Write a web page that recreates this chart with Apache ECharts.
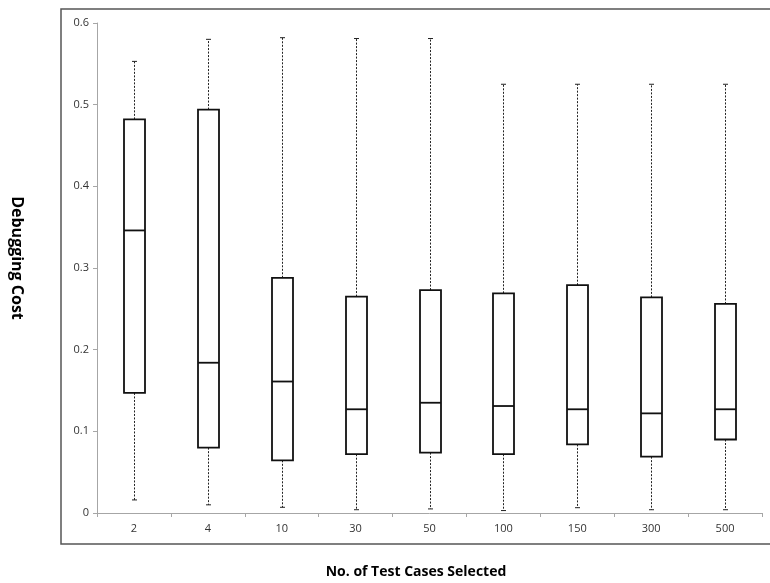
<!DOCTYPE html>
<html>
<head>
<meta charset="utf-8">
<script src="https://cdn.jsdelivr.net/npm/echarts@6/dist/echarts.min.js"></script>
<style>
html,body{margin:0;padding:0;background:#fff;}
#chart{width:770px;height:583px;}
</style>
</head>
<body>
<div id="chart"></div>
<script>
var categories = ['2','4','10','30','50','100','150','300','500'];
var whiskerLow  = [0.016, 0.010, 0.007, 0.004, 0.005, 0.003, 0.0065, 0.004, 0.004];
var q1Values    = [0.147, 0.080, 0.0645, 0.072, 0.074, 0.072, 0.084, 0.069, 0.090];
var medians     = [0.346, 0.184, 0.161, 0.127, 0.135, 0.131, 0.127, 0.122, 0.127];
var q3Values    = [0.482, 0.494, 0.288, 0.265, 0.273, 0.269, 0.279, 0.264, 0.256];
var whiskerHigh = [0.553, 0.580, 0.582, 0.581, 0.581, 0.525, 0.525, 0.525, 0.525];
var yTicks = [0, 0.1, 0.2, 0.3, 0.4, 0.5, 0.6];

var data = categories.map(function(c, i){
  return [i, whiskerLow[i], q1Values[i], medians[i], q3Values[i], whiskerHigh[i]];
});

var chart = echarts.init(document.getElementById('chart'));
var FONT = '"Open Sans", "Liberation Sans", sans-serif';

function renderItem(params, api) {
  var x = api.value(0);
  var pMin = api.coord([x, api.value(1)]);
  var pQ1 = api.coord([x, api.value(2)]);
  var pMed = api.coord([x, api.value(3)]);
  var pQ3 = api.coord([x, api.value(4)]);
  var pMax = api.coord([x, api.value(5)]);
  var bw = 21, cap = 5;
  var cx = Math.round(pMed[0]) + 0.5;
  var dash = {stroke:'#222', lineWidth:1, lineDash:[2,1.5]};
  var solid = {stroke:'#222', lineWidth:1};
  return {
    type: 'group',
    children: [
      {type:'line', shape:{x1:cx, y1:pQ3[1], x2:cx, y2:pMax[1]}, style:dash},
      {type:'line', shape:{x1:cx, y1:pQ1[1], x2:cx, y2:pMin[1]}, style:dash},
      {type:'line', shape:{x1:cx-cap/2, y1:pMax[1], x2:cx+cap/2, y2:pMax[1]}, style:solid},
      {type:'line', shape:{x1:cx-cap/2, y1:pMin[1], x2:cx+cap/2, y2:pMin[1]}, style:solid},
      {type:'rect', shape:{x:cx-bw/2, y:pQ3[1], width:bw, height:pQ1[1]-pQ3[1]},
        style:{fill:'#fff', stroke:'#111', lineWidth:1.8}},
      {type:'line', shape:{x1:cx-bw/2, y1:pMed[1], x2:cx+bw/2, y2:pMed[1]},
        style:{stroke:'#111', lineWidth:1.8}}
    ]
  };
}

chart.setOption({
  animation: false,
  backgroundColor: '#fff',
  grid: {left: 97, right: 8, top: 23, bottom: 70},
  xAxis: {
    type: 'category',
    data: categories,
    boundaryGap: true,
    axisLine: {lineStyle: {color: '#a6a6a6', width: 1}},
    axisTick: {show: true, alignWithLabel: false, length: 4, lineStyle: {color: '#a6a6a6'}},
    axisLabel: {color: '#333', fontSize: 11, fontFamily: FONT, margin: 10},
    splitLine: {show: false}
  },
  yAxis: {
    type: 'value',
    min: 0, max: 0.6, interval: 0.1,
    axisLine: {show: true, lineStyle: {color: '#a6a6a6', width: 1}},
    axisTick: {show: true, length: 4, lineStyle: {color: '#a6a6a6'}},
    axisLabel: {color: '#333', fontSize: 11, fontFamily: FONT, margin: 8,
      formatter: function(v){ var r = Math.round(v*10)/10; return yTicks.indexOf(r) >= 0 ? String(r) : ''; }},
    splitLine: {show: false}
  },
  series: [{
    type: 'custom',
    renderItem: renderItem,
    encode: {x: 0, y: [1,2,3,4,5]},
    data: data
  }],
  graphic: [
    {type:'rect', shape:{x:61, y:9, width:730, height:535}, style:{fill:'none', stroke:'#555', lineWidth:1.5}, z:-1},
    {type:'text', x: 17, y: 258, rotation: -Math.PI/2,
      style:{text:'Debugging Cost', font:'bold 16px ' + FONT, fill:'#000', textAlign:'center', textVerticalAlign:'middle'}},
    {type:'text', x: 416, y: 572,
      style:{text:'No. of Test Cases Selected', font:'bold 14px ' + FONT, fill:'#000', textAlign:'center', textVerticalAlign:'middle'}}
  ]
});
</script>
</body>
</html>
